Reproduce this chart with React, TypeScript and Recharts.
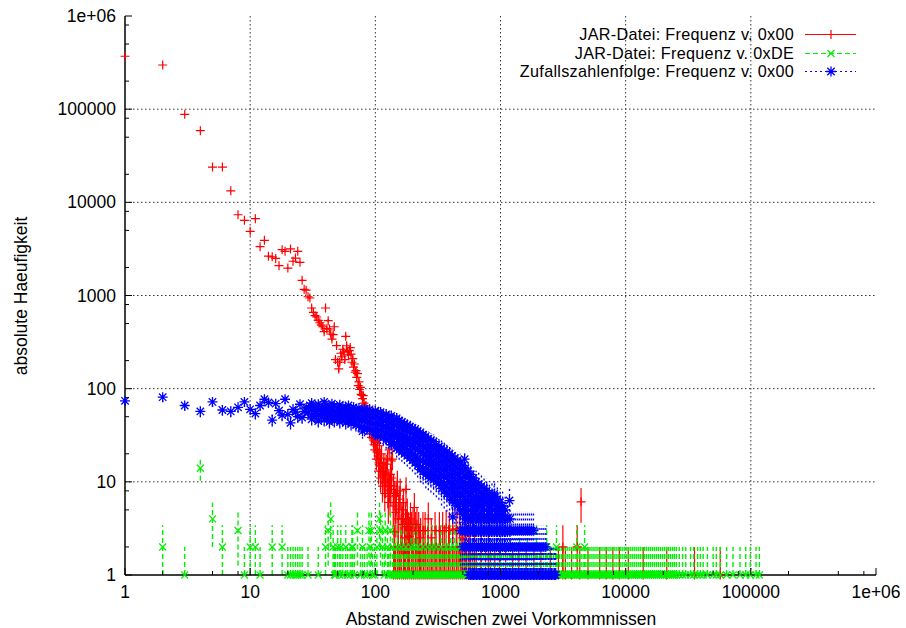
import React from 'react';
import { ScatterChart, Scatter, XAxis, YAxis, CartesianGrid, ErrorBar } from 'recharts';

const W = 906;
const H = 628;
const FONT = '"Liberation Sans", Arial, Helvetica, sans-serif';
const FS = 17.5;
const LEGEND_FS = 16.2;

const seriesNames = [
    'JAR-Datei: Frequenz v. 0x00',
    'JAR-Datei: Frequenz v. 0xDE',
    'Zufallszahlenfolge: Frequenz v. 0x00',
];
const seriesColors = ['#ff0000', '#00f000', '#0000ff'];

const majorTicks = [1, 10, 100, 1000, 10000, 100000, 1000000];
const axisTicks = [
    1, 2, 5, 8, 10, 20, 50, 80, 100, 200, 500, 800, 1000, 2000, 5000, 8000,
    10000, 20000, 50000, 80000, 100000, 200000, 500000, 800000, 1000000,
];
const gridValues = [10, 100, 1000, 10000, 100000];

// JAR-Datei, 0x00: Abstand -> Haeufigkeit
const redCurve: [number, number][] = [
    [1, 370000], [2, 298000], [3, 88000], [4, 58700], [5, 23900], [6, 23900], [7, 13300], [8, 7360],
    [9, 6410], [10, 4890], [11, 6670], [12, 3340], [13, 3910], [14, 2640], [15, 2600], [16, 2500],
    [17, 2090], [18, 3100], [19, 2980], [20, 1970], [21, 3160], [22, 2330], [23, 2520], [24, 2980],
    [25, 2270], [26, 1456], [27, 1165], [28, 1140], [29, 970], [30, 940], [31, 734], [32, 660],
    [33, 607], [34, 588], [35, 540], [36, 510], [37, 480], [38, 462], [39, 409], [40, 734],
    [41, 440], [42, 537], [43, 437], [44, 386], [45, 341], [46, 380], [47, 462], [48, 205],
    [49, 290], [50, 192], [51, 163], [52, 192], [53, 240], [54, 220], [55, 265], [56, 246],
    [57, 205], [58, 365], [59, 289], [60, 250], [61, 230], [62, 256], [63, 276], [64, 235],
    [65, 192], [66, 210], [67, 170], [68, 184], [69, 150], [70, 156], [71, 132], [72, 145],
    [73, 108], [74, 118], [75, 98], [76, 103], [77, 87], [78, 85], [79, 78], [80, 84],
    [81, 70], [82, 62], [83, 58], [84, 65], [85, 52], [86, 55], [87, 46], [88, 50],
    [89, 47], [90, 35], [91, 42], [92, 40], [93, 30], [94, 33], [95, 35], [96, 29],
    [97, 28], [98, 25], [99, 22], [100, 27],
];
const redScatter: [number, number][] = [
    [101, 26.6], [102, 17.5], [103, 21], [104, 22], [105, 19], [106, 13], [107, 16], [108, 24.4],
    [109, 14.8], [110, 11], [111, 18], [112, 20], [113, 13], [114, 9], [115, 11.6], [116, 14],
    [117, 16], [118, 10], [119, 7.5], [120, 12.5], [121, 9.8], [122, 15.5], [124, 12], [125, 17.5],
    [126, 8], [127, 6], [128, 10.5], [129, 22], [130, 9.1], [131, 7], [132, 12], [133, 8.3],
    [134, 16.8], [135, 11], [137, 17.5], [139, 5.5], [140, 9], [141, 2.9], [143, 7.5], [145, 6],
    [146, 4.7], [147, 7.1], [150, 10], [152, 4], [154, 5.1], [155, 6.5], [158, 8], [161, 4],
    [164, 3.5], [166, 5], [168, 6], [172, 2.5], [174, 4], [176, 8.3], [178, 3.3], [180, 4.5],
    [184, 3], [187, 2.6], [191, 4], [195, 3], [200, 3.5], [205, 5.3], [210, 3], [215, 3.5],
    [222, 3], [230, 2.5], [240, 3], [250, 3], [265, 4], [280, 2.5], [300, 3], [325, 3],
    [345, 3], [368, 3.2], [390, 3], [415, 3.1], [443, 3.1], [470, 3], [500, 2.5], [530, 3],
    [560, 3], [4400, 6.1],
];
const redTwos = [
    143, 152, 160, 171, 183, 196, 210, 226, 243, 262, 283, 306, 330, 356, 385, 415, 448, 485,
    525, 570, 620, 700, 800, 3150, 4100,
];
const redOnes = [
    140, 145, 150, 156, 162, 168, 174, 180, 187, 194, 201, 208, 216, 224, 232, 241, 250, 259,
    269, 279, 289, 300, 311, 323, 335, 347, 360, 373, 387, 401, 416, 431, 447, 464, 481, 499,
    518, 537, 557, 578, 600, 640, 700, 760, 830, 900, 980, 1100, 1250, 1400, 1600, 1850, 2100,
    2500, 2900, 3150, 3300, 3700, 4300, 5000, 6200, 7000, 7900, 8900, 10500, 13800, 21300,
    35500, 57000,
];

// JAR-Datei, 0xDE
const greenPoints: [number, number][] = [
    [2, 2], [3, 1], [4, 14], [5, 4], [6, 2], [8, 3], [9, 1], [10, 2], [11, 2], [12, 1],
    [15, 2], [18, 2], [20, 1], [21, 1], [22, 1], [23, 1], [24, 1], [25, 1], [26, 1], [29, 1],
    [35, 1], [40, 2], [42, 3], [44, 4], [46, 2], [47, 1], [48, 1], [50, 2], [52, 1], [53, 2],
    [55, 1], [58, 2], [60, 1], [63, 1], [65, 2], [66, 2], [68, 1], [72, 3], [76, 1], [79, 2],
    [82, 1], [86, 1], [89, 3], [91, 2], [93, 3], [95, 1], [99, 1], [103, 2], [108, 4], [110, 3],
    [114, 2], [118, 1], [120, 3], [125, 2], [132, 3], [138, 2], [150, 2], [161, 2], [175, 2],
    [193, 2], [205, 2], [218, 2], [240, 2], [262, 2], [283, 2], [305, 2], [335, 2], [368, 2],
    [400, 2], [430, 2], [470, 2], [515, 2], [600, 2], [700, 2], [830, 2], [1000, 2], [1200, 2],
    [1420, 2], [1640, 2], [1940, 2], [2340, 2], [2800, 2], [4070, 2], [4700, 2],
];
const greenOnes = [
    127, 131, 137, 141, 146, 152, 157, 163, 170, 176, 182, 189, 197, 204, 211, 219, 228, 236,
    245, 254, 263, 273, 284, 294, 305, 317, 328, 341, 353, 367, 380, 395, 409, 424, 440, 457,
    473, 491, 510, 528, 548, 569, 589, 611, 635, 658, 683, 708, 735, 761, 790, 820, 850, 881,
    915, 948, 984, 1020, 1058, 1097, 1139, 1180, 1225, 1270, 1318, 1366, 1418, 1470, 1525, 1583,
    1641, 1703, 1766, 1831, 1900, 1970, 2044, 2120, 2198, 2281, 2366, 2454, 2545, 2641, 2739,
    2841, 2947, 3057, 3171, 3288, 3411, 3538, 3670, 3806, 3949, 4096, 4248, 4406, 4570, 4740,
    4917, 5100, 5290, 5487, 5691, 5903, 6123, 6351, 6588, 6833, 7088, 7352, 7626, 7910, 8204,
    8510, 8827, 9156, 9497, 9851, 10218, 10599, 10994, 11403, 11828, 12268, 12725, 13199,
    13690, 14200, 14728, 15277, 15846, 16436, 17048, 17683, 18341, 19024, 19732, 20467, 21229,
    22020, 22839, 23690, 24500, 25400, 26800, 28500, 30200, 33000, 35000, 37600, 39500, 41600,
    45000, 50000, 53000, 57000, 64000, 72000, 82000, 91000, 99000, 110000, 117000,
];

// Zufallszahlenfolge, 0x00
const bluePoints: [number, number][] = [
    [1, 74], [2, 81], [3, 66], [4, 57], [5, 72], [6, 59], [7, 57], [8, 63], [9, 72], [10, 60],
    [11, 54], [12, 66], [13, 77], [14, 71], [15, 46], [16, 69], [17, 58], [18, 52], [19, 77],
    [20, 53], [21, 43], [22, 60], [23, 56], [24, 50], [25, 68], [26, 49], [27, 57], [28, 62],
    [29, 55], [30, 66], [79, 35], [415, 6.3], [415, 4.2], [517, 17.5], [890, 7.4], [1180, 6.3],
];
// dichter Bereich: Abstand -> Haeufigkeiten (von oben nach unten)
const blueBand: [number, number[]][] = [
    [31, [70, 60, 52, 47]], [33, [64, 57, 50]], [35, [68, 59, 52, 45]], [37, [62, 55, 50]],
    [39, [72, 62, 54, 46]], [41, [66, 58, 51, 48]], [43, [63, 56, 50, 44]], [45, [69, 60, 52, 49]],
    [47, [65, 57, 50, 45]], [50, [62, 56, 51, 47]], [52, [67, 59, 52, 44]], [55, [64, 57, 51, 46]],
    [58, [61, 55, 49, 43]], [61, [66, 58, 51, 45]], [64, [60, 54, 48, 42]], [67, [63, 56, 50, 44]],
    [70, [59, 53, 47, 41]], [74, [62, 55, 47, 40]], [78, [58, 51, 45, 39]], [82, [61, 53, 45, 37]],
    [86, [57, 50, 44, 38]], [90, [60, 51, 43, 36]], [95, [56, 49, 42, 35]],
    [100, [58, 50, 43, 37, 32]], [105, [55, 47, 41, 35, 31]], [110, [56, 48, 41, 36, 31]],
    [116, [52, 45, 39, 34, 30]], [122, [53, 46, 39, 33, 28]], [128, [50, 43, 37, 32, 28]],
    [134, [51, 44, 38, 32, 27, 25]], [141, [47, 41, 35, 30, 26]], [148, [48, 41, 35, 30, 26, 23]],
    [155, [45, 39, 33, 29, 25, 22]], [163, [44, 38, 32, 28, 24, 21]], [171, [42, 36, 31, 27, 23, 20]],
    [180, [41, 35, 30, 26, 22, 19]], [189, [39, 34, 29, 25, 21, 18]], [198, [38, 33, 28, 24, 20, 17]],
    [208, [37, 32, 27, 23, 19, 16]], [218, [35, 30, 26, 22, 18, 15]],
    [229, [34, 29, 25, 21, 17, 14.5, 13.5]], [241, [32, 28, 24, 20, 17, 14, 13]],
    [253, [31, 27, 23, 19, 16, 13.5, 12]], [265, [29, 25, 21.5, 18.5, 15.5, 13, 11.5]],
    [278, [28, 24, 20.5, 17.5, 15, 12.5, 11]], [292, [27, 23, 19.5, 16.5, 14, 12, 10.5]],
    [307, [25, 21.5, 18.5, 16, 13.5, 11.5, 10]], [322, [24, 20.5, 17.5, 15, 13, 11, 9.5]],
    [338, [23, 19.5, 16.5, 14, 12, 10, 8.5]], [355, [22, 18.5, 16, 13.5, 11.5, 9.5, 8]],
    [373, [21, 18, 15, 13, 11, 9, 7.5]], [392, [20, 17, 14.5, 12, 10, 8.5, 7]],
    [411, [19, 16, 13.5, 11.5, 9.5, 8, 6.5]], [432, [18, 15, 12.5, 10.5, 9, 7.5, 6]],
    [454, [17, 14, 12, 10, 8.5, 7, 5.5]], [476, [16, 13.5, 11, 9, 7.5, 6, 5]],
    [500, [15, 12.5, 10, 8.5, 7, 6, 5, 4.5]], [525, [14, 11.5, 9.5, 8, 6.5, 5.5, 4.5]],
    [551, [13, 11, 9, 7.5, 6, 5, 4]], [579, [12, 10, 8.5, 7, 6, 5, 4]],
    [608, [11, 9.5, 8, 6.5, 5.5, 4.5, 4]], [638, [10, 8.5, 7, 6, 5, 4]],
    [670, [9.5, 8, 6.5, 5.5, 4.5, 4]], [704, [9, 7.5, 6.5, 5.5, 4.5, 4]],
    [739, [8.5, 7, 6, 5, 4]], [776, [8, 7, 6, 5, 4]], [815, [7.5, 6.5, 5.5, 4.5, 4]],
    [855, [7, 6, 5, 4]], [898, [7, 6, 5, 4]], [943, [6.5, 5.5, 4.5, 4]], [990, [6, 5, 4]],
    [1040, [5.5, 4.5, 4]], [1090, [5, 4]],
];
const blueFours = [
    520, 546, 574, 602, 632, 664, 697, 732, 768, 806, 846, 889, 933, 980, 1030, 1080, 1135, 1190,
];
const blueThrees = [
    480, 497, 515, 534, 553, 574, 595, 617, 640, 664, 688, 713, 740, 767, 795, 825, 855, 887,
    920, 954, 989, 1026, 1064, 1103, 1144, 1186, 1230, 1276, 1323, 1372, 1423, 1476, 1530, 1587,
    1646, 1707, 1770, 1835,
];
const blueTwos = [
    500, 518, 537, 557, 578, 600, 622, 645, 669, 694, 720, 746, 774, 803, 832, 863, 895, 928,
    963, 998, 1035, 1074, 1113, 1155, 1197, 1242, 1288, 1335, 1385, 1436, 1489, 1544, 1601, 1660,
    1722, 1786, 1852, 1920, 1991, 2065, 2142, 2220, 2300,
];
const blueOnes = [
    560, 576, 592, 608, 625, 642, 660, 679, 698, 717, 737, 758, 779, 801, 823, 846, 870, 894,
    919, 945, 971, 999, 1027, 1055, 1085, 1115, 1146, 1178, 1211, 1245, 1280, 1316, 1353, 1390,
    1429, 1469, 1510, 1553, 1596, 1641, 1686, 1734, 1782, 1832, 1883, 1936, 1990, 2046, 2103,
    2162, 2222, 2285, 2349, 2414, 2482, 2551, 2623, 2696, 2760,
];

type Pt = { x: number; y: number; err: [number, number] };

// Fehlerbalken sqrt(n), unten am Rand (1) abgeschnitten
const pt = (x: number, y: number): Pt => {
    const s = Math.sqrt(y);
    return { x, y, err: [Math.min(s, y - 1), s] };
};

const redData: Pt[] = [
    ...redCurve.map(([x, y]) => pt(x, y)),
    ...redScatter.map(([x, y]) => pt(x, y)),
    ...redTwos.map(x => pt(x, 2)),
    ...redOnes.map(x => pt(x, 1)),
];
const greenData: Pt[] = [
    ...greenPoints.map(([x, y]) => pt(x, y)),
    ...greenOnes.map(x => pt(x, 1)),
];
const blueData: Pt[] = [
    ...bluePoints.map(([x, y]) => pt(x, y)),
    ...blueBand.flatMap(([x, ys]) => ys.map(y => pt(x, y))),
    ...blueFours.map(x => pt(x, 4)),
    ...blueThrees.map(x => pt(x, 3)),
    ...blueTwos.map(x => pt(x, 2)),
    ...blueOnes.map(x => pt(x, 1)),
];

const fmt = (v: number) => (v >= 1000000 ? '1e+06' : String(v));
const isMajor = (v: number) => majorTicks.includes(v);

const PlusMark = ({ cx, cy, color = seriesColors[0] }: any) =>
    cx == null ? null : (
        <path d={`M${cx - 4.5},${cy}h9M${cx},${cy - 4.5}v9`} stroke={color} strokeWidth={1.2} fill="none" />
    );
const CrossMark = ({ cx, cy, color = seriesColors[1] }: any) =>
    cx == null ? null : (
        <path d={`M${cx - 3.5},${cy - 3.5}l7,7M${cx - 3.5},${cy + 3.5}l7,-7`} stroke={color} strokeWidth={1.2} fill="none" />
    );
const StarMark = ({ cx, cy, color = seriesColors[2] }: any) =>
    cx == null ? null : (
        <path
            d={`M${cx - 5},${cy}h10M${cx},${cy - 5}v10M${cx - 3.7},${cy - 3.7}l7.4,7.4M${cx - 3.7},${cy + 3.7}l7.4,-7.4`}
            stroke={color}
            strokeWidth={1.3}
            fill="none"
        />
    );

const labelStyle = { fontFamily: FONT, fontSize: FS, fill: '#000' };

const BottomTick = ({ x, y, payload }: any) => {
    const major = isMajor(payload.value);
    return (
        <g>
            <line x1={x} x2={x} y1={y} y2={y - (major ? 7 : 4)} stroke="#000" />
            {major && (
                <text x={x} y={y + 23} textAnchor="middle" {...labelStyle}>{fmt(payload.value)}</text>
            )}
        </g>
    );
};
const TopTick = ({ x, y, payload }: any) => (
    <line x1={x} x2={x} y1={y} y2={y + (isMajor(payload.value) ? 7 : 4)} stroke="#000" />
);
const LeftTick = ({ x, y, payload }: any) => {
    const major = isMajor(payload.value);
    return (
        <g>
            <line x1={x} x2={x + (major ? 7 : 4)} y1={y} y2={y} stroke="#000" />
            {major && (
                <text x={x - 9} y={y + 6} textAnchor="end" {...labelStyle}>{fmt(payload.value)}</text>
            )}
        </g>
    );
};
const RightTick = ({ x, y, payload }: any) => (
    <line x1={x} x2={x - (isMajor(payload.value) ? 7 : 4)} y1={y} y2={y} stroke="#000" />
);

const frameLine = { stroke: '#000', strokeWidth: 1.5 };

export default function App() {
    const dashes = [undefined, '5 3', '2 3'];
    return (
        <div style={{ position: 'absolute', left: 0, top: 0, width: W, height: H, background: '#fff' }}>
            <ScatterChart width={W} height={H} margin={{ top: 16, right: 30, bottom: 0, left: 0 }}>
                <CartesianGrid
                    horizontalValues={gridValues}
                    verticalValues={gridValues}
                    stroke="#333"
                    strokeDasharray="1.5 2.5"
                />
                <XAxis
                    dataKey="x"
                    type="number"
                    scale="log"
                    domain={[1, 1000000]}
                    ticks={axisTicks}
                    interval={0}
                    height={53}
                    tickSize={0}
                    tickMargin={0}
                    tickLine={false}
                    axisLine={frameLine}
                    tick={BottomTick}
                />
                <XAxis
                    xAxisId="top"
                    orientation="top"
                    dataKey="x"
                    type="number"
                    scale="log"
                    domain={[1, 1000000]}
                    ticks={axisTicks}
                    interval={0}
                    height={0}
                    tickSize={0}
                    tickMargin={0}
                    tickLine={false}
                    axisLine={frameLine}
                    tick={TopTick}
                />
                <YAxis
                    dataKey="y"
                    type="number"
                    scale="log"
                    domain={[1, 1000000]}
                    ticks={axisTicks}
                    interval={0}
                    width={125}
                    tickSize={0}
                    tickMargin={0}
                    tickLine={false}
                    axisLine={frameLine}
                    tick={LeftTick}
                />
                <YAxis
                    yAxisId="right"
                    orientation="right"
                    dataKey="y"
                    type="number"
                    scale="log"
                    domain={[1, 1000000]}
                    ticks={axisTicks}
                    interval={0}
                    width={0}
                    tickSize={0}
                    tickMargin={0}
                    tickLine={false}
                    axisLine={frameLine}
                    tick={RightTick}
                />
                <Scatter data={redData} dataKey="y" shape={PlusMark} isAnimationActive={false}>
                    <ErrorBar dataKey="err" direction="y" width={0} stroke={seriesColors[0]} strokeWidth={1.2} isAnimationActive={false} />
                </Scatter>
                <Scatter data={greenData} dataKey="y" shape={CrossMark} isAnimationActive={false}>
                    <ErrorBar dataKey="err" direction="y" width={0} stroke={seriesColors[1]} strokeWidth={1.4} strokeDasharray={dashes[1]} isAnimationActive={false} />
                </Scatter>
                <Scatter data={blueData} dataKey="y" shape={StarMark} isAnimationActive={false}>
                    <ErrorBar dataKey="err" direction="y" width={0} stroke={seriesColors[2]} strokeWidth={1.3} strokeDasharray={dashes[2]} isAnimationActive={false} />
                </Scatter>
            </ScatterChart>
            <svg width={W} height={H} style={{ position: 'absolute', left: 0, top: 0, pointerEvents: 'none' }}>
                <text x={21} y={296} transform="rotate(-90 21 296)" textAnchor="middle" dominantBaseline="central" {...labelStyle}>
                    absolute Haeufigkeit
                </text>
                <text x={501} y={625} textAnchor="middle" {...labelStyle}>
                    Abstand zwischen zwei Vorkommnissen
                </text>
                {seriesNames.map((name, i) => {
                    const ly = Math.round(34 + i * 18.5);
                    const Mark = [PlusMark, CrossMark, StarMark][i];
                    return (
                        <g key={name}>
                            <text x={794} y={ly + 5.5} textAnchor="end" {...labelStyle} fontSize={LEGEND_FS} letterSpacing={0.3}>
                                {name}
                            </text>
                            <line x1={805} x2={856} y1={ly + 0.5} y2={ly + 0.5} stroke={seriesColors[i]} strokeWidth={1.2} strokeDasharray={dashes[i]} />
                            <Mark cx={831} cy={ly + 0.5} />
                        </g>
                    );
                })}
            </svg>
        </div>
    );
}
